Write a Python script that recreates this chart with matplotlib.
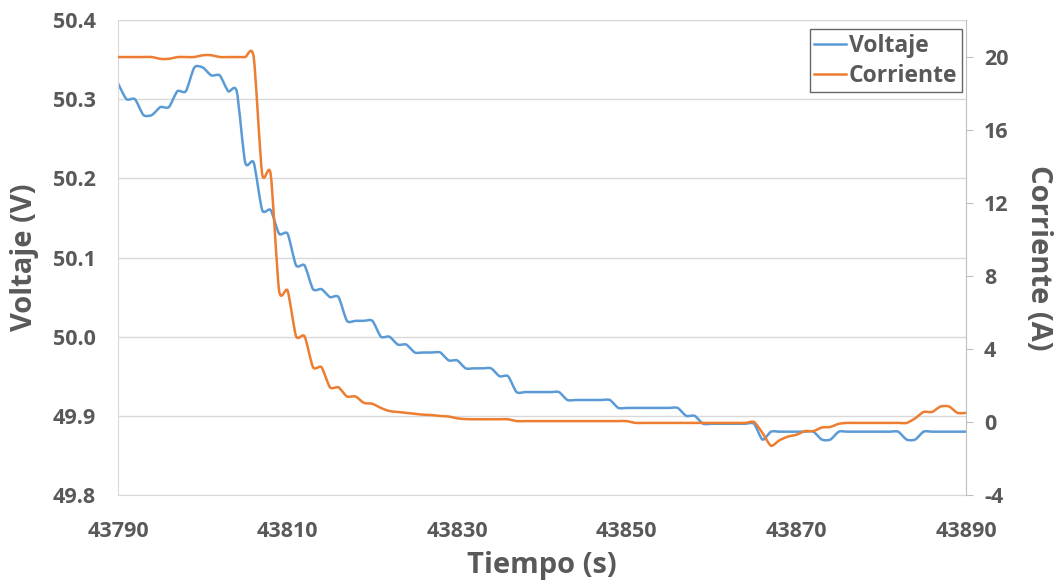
import numpy as np
import matplotlib.pyplot as plt
from matplotlib.path import Path
from matplotlib.patches import PathPatch
from matplotlib.lines import Line2D

plt.rcParams['font.family'] = ['Open Sans', 'DejaVu Sans']
plt.rcParams['font.weight'] = 'bold'
plt.rcParams['axes.unicode_minus'] = False

GRIS = '#595959'
AZUL = '#5b9bd5'
NARANJA = '#ed7d31'

# Muestras cada segundo
tiempo = np.arange(43790, 43891)

voltaje = [
    50.32, 50.30, 50.30, 50.28, 50.28, 50.29, 50.29, 50.31, 50.31, 50.34,
    50.34, 50.33, 50.33, 50.31, 50.31, 50.22, 50.22, 50.16, 50.16, 50.13,
    50.13, 50.09, 50.09, 50.06, 50.06, 50.05, 50.05, 50.02, 50.02, 50.02,
    50.02, 50.00, 50.00, 49.99, 49.99, 49.98, 49.98, 49.98, 49.98, 49.97,
    49.97, 49.96, 49.96, 49.96, 49.96, 49.95, 49.95, 49.93, 49.93, 49.93,
    49.93, 49.93, 49.93, 49.92, 49.92, 49.92, 49.92, 49.92, 49.92, 49.91,
    49.91, 49.91, 49.91, 49.91, 49.91, 49.91, 49.91, 49.90, 49.90, 49.89,
    49.89, 49.89, 49.89, 49.89, 49.89, 49.89, 49.87, 49.88, 49.88, 49.88,
    49.88, 49.88, 49.88, 49.87, 49.87, 49.88, 49.88, 49.88, 49.88, 49.88,
    49.88, 49.88, 49.88, 49.87, 49.87, 49.88, 49.88, 49.88, 49.88, 49.88,
    49.88,
]

corriente = [
    20.0, 20.0, 20.0, 20.0, 20.0, 19.9, 19.9, 20.0, 20.0, 20.0,
    20.1, 20.1, 20.0, 20.0, 20.0, 20.0, 20.0, 13.6, 13.6, 7.2,
    7.2, 4.7, 4.7, 3.0, 3.0, 1.9, 1.9, 1.4, 1.4, 1.05,
    1.0, 0.77, 0.6, 0.55, 0.5, 0.45, 0.4, 0.38, 0.33, 0.3,
    0.2, 0.16, 0.15, 0.15, 0.15, 0.15, 0.15, 0.05, 0.05, 0.05,
    0.05, 0.05, 0.05, 0.05, 0.05, 0.05, 0.05, 0.05, 0.05, 0.05,
    0.05, -0.05, -0.05, -0.05, -0.05, -0.05, -0.05, -0.05, -0.05, -0.05,
    -0.05, -0.05, -0.05, -0.05, -0.05, 0.0, -0.6, -1.3, -1.0, -0.8,
    -0.7, -0.5, -0.5, -0.3, -0.27, -0.1, -0.05, -0.05, -0.05, -0.05,
    -0.05, -0.05, -0.05, -0.05, 0.2, 0.55, 0.55, 0.85, 0.85, 0.5,
    0.5,
]

ticks_t = [43790, 43810, 43830, 43850, 43870, 43890]
ticks_v = [49.8, 49.9, 50.0, 50.1, 50.2, 50.3, 50.4]
ticks_i = [-4, 0, 4, 8, 12, 16, 20]


def linea_suave(ax, x, y, color, k=0.12):
    """Curva bezier que pasa por todos los puntos (linea suavizada)."""
    p = np.column_stack([x, np.asarray(y, dtype=float)])
    ext = np.vstack([p[0], p, p[-1]])
    verts = [p[0]]
    codes = [Path.MOVETO]
    for i in range(len(p) - 1):
        c1 = ext[i + 1] + (ext[i + 2] - ext[i]) * k
        c2 = ext[i + 2] - (ext[i + 3] - ext[i + 1]) * k
        verts += [c1, c2, p[i + 1]]
        codes += [Path.CURVE4] * 3
    patch = PathPatch(Path(verts, codes), fill=False, edgecolor=color,
                      lw=1.8, capstyle='round', joinstyle='round')
    ax.add_patch(patch)


fig = plt.figure(figsize=(10.59, 5.82), dpi=100)
ax = fig.add_axes([118 / 1059, 1 - 495 / 582, 848 / 1059, 475 / 582])
ax2 = ax.twinx()

linea_suave(ax, tiempo, voltaje, AZUL)
linea_suave(ax2, tiempo, corriente, NARANJA)

ax.set_xlim(43790, 43890)
ax.set_ylim(49.8, 50.4)
ax2.set_ylim(-4, 22.03)

ax.set_xticks(ticks_t)
ax.set_yticks(ticks_v)
ax.set_yticklabels([f'{v:.1f}' for v in ticks_v])
ax2.set_yticks(ticks_i)

ax.grid(axis='y', color='#d9d9d9', lw=1)
ax.set_axisbelow(True)

for s in ['left', 'top', 'bottom']:
    ax.spines[s].set_color('#d9d9d9')
    ax2.spines[s].set_visible(False)
ax.spines['right'].set_visible(False)
ax2.spines['right'].set_color('#bfbfbf')

ax.tick_params(axis='both', length=0, labelsize=15.5, labelcolor=GRIS)
ax.tick_params(axis='y', pad=16)
ax.tick_params(axis='x', pad=19)
ax2.tick_params(axis='y', length=5, color='#bfbfbf', labelsize=15.5,
                labelcolor=GRIS, pad=8)

ax.set_xlabel('Tiempo (s)', fontsize=21, color=GRIS, labelpad=6,
              fontweight='bold')
ax.set_ylabel('Voltaje (V)', fontsize=21, color=GRIS, labelpad=10,
              fontweight='bold')
ax2.set_ylabel('Corriente (A)', fontsize=21, color=GRIS, rotation=270,
               labelpad=32, fontweight='bold')

handles = [Line2D([], [], color=AZUL, lw=1.8, label='Voltaje'),
           Line2D([], [], color=NARANJA, lw=1.8, label='Corriente')]
leg = ax2.legend(handles=handles, loc='upper right',
                 bbox_to_anchor=(0.995, 0.98), fontsize=16.5, frameon=True,
                 fancybox=False, handlelength=1.4, handletextpad=0.1,
                 borderpad=0.2, labelspacing=0.25, borderaxespad=0)
leg.get_frame().set_edgecolor('#404040')
leg.get_frame().set_linewidth(1)
for t in leg.get_texts():
    t.set_color(GRIS)
    t.set_fontweight('bold')

fig.savefig('out.png', dpi=100)
